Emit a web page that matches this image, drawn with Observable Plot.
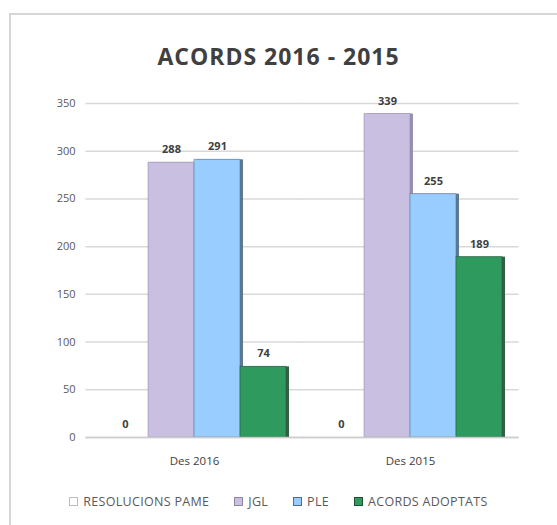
<!DOCTYPE html>
<html>
<head>
<meta charset="utf-8">
<script src="https://cdn.jsdelivr.net/npm/d3@7"></script>
<script src="https://cdn.jsdelivr.net/npm/@observablehq/plot@0.6"></script>
<style>
  html, body { margin: 0; padding: 0; background: #fff; }
  body { width: 557px; height: 525px; position: relative; overflow: hidden; font-family: "Open Sans", "Liberation Sans", sans-serif; }
  #frame { position: absolute; left: 9px; top: 13px; width: 600px; height: 600px; border-top: 2px solid #d6d6d6; border-left: 2px solid #d6d6d6; }
  #title { position: absolute; left: 0; width: 557px; top: 40px; text-align: center; font-weight: bold; font-size: 23px; color: #404040; letter-spacing: 1px; }
  #chart { position: absolute; left: 0; top: 80px; }
  #legend { position: absolute; left: 0; width: 557px; top: 493px; display: flex; justify-content: center; gap: 25px; font-size: 12.5px; color: #595959; letter-spacing: 0.3px; }
  .item { display: flex; align-items: center; gap: 5px; }
  .sw { width: 9px; height: 9px; box-sizing: border-box; }
</style>
</head>
<body>
<div id="frame"></div>
<div id="title">ACORDS 2016 - 2015</div>
<div id="chart"></div>
<div id="legend"></div>
<script>
const periods = ["Des 2016", "Des 2015"];
const series = ["RESOLUCIONS PAME", "JGL", "PLE", "ACORDS ADOPTATS"];
const resolucionsPame = [0, 0];
const jgl = [288, 339];
const ple = [291, 255];
const acordsAdoptats = [74, 189];
const yTicks = [0, 50, 100, 150, 200, 250, 300, 350];

const colors = ["#ffffff", "#c9bfe0", "#99ccff", "#2e9a5e"];
const edges = ["#bdbdbd", "#8e86a3", "#4f6b86", "#1f4f34"];

const valuesBySeries = [resolucionsPame, jgl, ple, acordsAdoptats];
const data = [];
periods.forEach((p, i) => {
  series.forEach((s, j) => {
    data.push({period: p, series: s, value: valuesBySeries[j][i]});
  });
});

const gapInset = -15.6;

const chart = Plot.plot({
  width: 557,
  height: 400,
  marginLeft: 86,
  marginRight: 39,
  marginTop: 23,
  marginBottom: 43,
  style: {fontFamily: "'Open Sans', 'Liberation Sans', sans-serif", fontSize: "12px", color: "#595959", background: "transparent"},
  fx: {domain: periods, paddingInner: 0.14, paddingOuter: 0.07, label: null},
  x: {domain: series, padding: 0, axis: null},
  y: {domain: [0, 350], ticks: yTicks, label: null},
  color: {domain: series, range: colors},
  marks: [
    Plot.ruleY(yTicks, {stroke: "#d9d9d9", strokeWidth: 1.5, insetLeft: gapInset, insetRight: gapInset}),
    Plot.axisY(yTicks, {tickSize: 0, tickPadding: 26, fontSize: 11, fill: "#595959", label: null}),
    Plot.axisFx({anchor: "bottom", tickSize: 0, tickPadding: 19, fontSize: 11.5, fill: "#404040", label: null}),
    Plot.barY(data.filter(d => d.value > 0), {fx: "period", x: "series", y: "value", fill: (d) => edges[series.indexOf(d.series)], dx: 3, fillOpacity: 0.9}),
    Plot.barY(data.filter(d => d.value > 0), {fx: "period", x: "series", y: "value", fill: "series", stroke: (d) => edges[series.indexOf(d.series)], strokeWidth: 1, strokeOpacity: 0.5}),
    Plot.ruleY([0], {stroke: "#cccccc", strokeWidth: 1.5, insetLeft: gapInset, insetRight: gapInset}),
    Plot.text(data, {fx: "period", x: "series", y: "value", text: (d) => String(d.value), dy: -13, fontSize: 11, fill: "#404040", fontWeight: "bold"})
  ]
});
document.getElementById("chart").appendChild(chart);

const legend = document.getElementById("legend");
series.forEach((s, j) => {
  const item = document.createElement("div");
  item.className = "item";
  const sw = document.createElement("div");
  sw.className = "sw";
  sw.style.background = colors[j];
  sw.style.border = "1px solid " + edges[j];
  const label = document.createElement("span");
  label.textContent = s;
  item.appendChild(sw);
  item.appendChild(label);
  legend.appendChild(item);
});
</script>
</body>
</html>
